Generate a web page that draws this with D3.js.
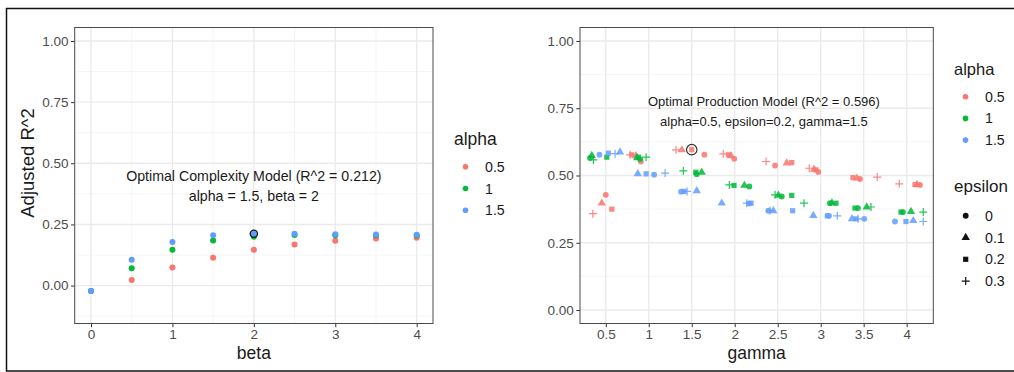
<!DOCTYPE html>
<html><head><meta charset="utf-8">
<script src="https://cdn.jsdelivr.net/npm/d3@7/dist/d3.min.js"></script>
<style>body{margin:0;background:#fff} text{font-family:"Liberation Sans",Arial,sans-serif}</style>
</head><body><svg id="c" width="1014" height="372"></svg>
<script>
// ---------- data ----------
const alphaLevels = ["0.5", "1", "1.5"];
const alphaColors = ["#F8766D", "#00BA38", "#619CFF"];
const epsilonLevels = ["0", "0.1", "0.2", "0.3"];

// Left panel: complexity model
const betaValues = [0, 0.5, 1, 1.5, 2, 2.5, 3, 3.5, 4];
const complexR2_a05 = [-0.022, 0.023, 0.074, 0.114, 0.146, 0.168, 0.183, 0.192, 0.196];
const complexR2_a1  = [-0.022, 0.071, 0.146, 0.184, 0.200, 0.207, 0.206, 0.206, 0.205];
const complexR2_a15 = [-0.022, 0.106, 0.178, 0.206, 0.212, 0.212, 0.210, 0.209, 0.208];
const betaTicks = [0, 1, 2, 3, 4];
const leftYTicks = [0, 0.25, 0.5, 0.75, 1];

// Right panel: production model (jittered gamma positions), order per gamma: eps 0, 0.1, 0.2, 0.3
const gammaTicks = [0.5, 1, 1.5, 2, 2.5, 3, 3.5, 4];
const prodGamma_a05 = [0.50,0.453,0.570,0.349, 0.907,0.852,0.802,0.783, 1.647,1.384,1.50,1.317, 1.995,1.957,1.926,1.867,
  2.469,2.605,2.663,2.365, 2.972,2.922,2.945,2.867, 3.457,3.422,3.375,3.658, 4.155,4.120,4.097,3.914];
const prodR2_a05 = [0.428,0.397,0.375,0.358, 0.552,0.573,0.577,0.577, 0.577,0.595,0.596,0.595, 0.562,0.573,0.577,0.580,
  0.537,0.546,0.548,0.552, 0.513,0.523,0.521,0.527, 0.487,0.490,0.492,0.494, 0.465,0.466,0.466,0.469];
const prodGamma_a1 = [0.317,0.337,0.512,0.356, 0.899,0.864,0.879,0.969, 1.558,1.616,1.547,1.402, 2.170,2.112,1.992,1.937,
  2.547,2.508,2.663,2.469, 3.108,3.131,3.178,2.806, 3.434,3.535,3.399,3.585, 3.957,4.050,3.934,4.193];
const prodR2_a1 = [0.565,0.574,0.568,0.558, 0.561,0.566,0.568,0.568, 0.505,0.512,0.512,0.517, 0.459,0.463,0.463,0.465,
  0.422,0.426,0.426,0.428, 0.397,0.398,0.397,0.397, 0.379,0.383,0.379,0.383, 0.364,0.366,0.364,0.364];
const prodGamma_a15 = [0.426,0.666,0.530,0.608, 1.062,0.872,0.969,1.19, 1.376,1.558,1.410,1.445, 2.166,1.849,2.19,2.140,
  2.391,2.449,2.674,2.41, 3.097,2.914,3.077,3.193, 3.507,3.364,3.411,3.434, 3.864,4.077,3.992,4.193];
const prodR2_a15 = [0.577,0.587,0.583,0.581, 0.503,0.506,0.506,0.509, 0.440,0.443,0.441,0.441, 0.396,0.397,0.397,0.397,
  0.369,0.369,0.369,0.369, 0.350,0.351,0.350,0.350, 0.339,0.339,0.339,0.339, 0.329,0.332,0.329,0.329];
const rightYTicks = [0, 0.25, 0.5, 0.75, 1];

const bestComplex = {beta: 2, r2: 0.212};
const bestProd = {gamma: 1.5, r2: 0.596};

// ---------- drawing ----------
const svg = d3.select("#c");
const FONT_TICK = 13.5, TICK_COL = "#4D4D4D", GRID = "#EBEBEB";
const FONT_ANN = 14.2, FONT_ANN_R = 13, FONT_TITLE = 17.5, FONT_LEG = 14.2;

svg.append("rect").attr("x", 6.5).attr("y", 8.5).attr("width", 1010).attr("height", 362.5)
  .attr("fill", "none").attr("stroke", "#111").attr("stroke-width", 1.5);

function panel(cfg) {
  const x = d3.scaleLinear().domain(cfg.xd).range([cfg.x0, cfg.x1]);
  const y = d3.scaleLinear().domain(cfg.yd).range([cfg.y1, cfg.y0]);
  const g = svg.append("g");
  cfg.xMinor.forEach(v => g.append("line").attr("x1", x(v)).attr("x2", x(v)).attr("y1", cfg.y0).attr("y2", cfg.y1)
    .attr("stroke", "#F2F2F2").attr("stroke-width", 0.8));
  cfg.yMinor.forEach(v => g.append("line").attr("y1", y(v)).attr("y2", y(v)).attr("x1", cfg.x0).attr("x2", cfg.x1)
    .attr("stroke", "#F2F2F2").attr("stroke-width", 0.8));
  cfg.xTicks.forEach(v => g.append("line").attr("x1", x(v)).attr("x2", x(v)).attr("y1", cfg.y0).attr("y2", cfg.y1)
    .attr("stroke", GRID).attr("stroke-width", 1.4));
  cfg.yTicks.forEach(v => g.append("line").attr("y1", y(v)).attr("y2", y(v)).attr("x1", cfg.x0).attr("x2", cfg.x1)
    .attr("stroke", GRID).attr("stroke-width", 1.4));
  return {x, y, g};
}

function axes(p, cfg) {
  const xa = d3.axisBottom(p.x).tickValues(cfg.xTicks).tickFormat(cfg.xFmt).tickSize(3.7).tickPadding(2.5);
  const ya = d3.axisLeft(p.y).tickValues(cfg.yTicks).tickFormat(d3.format(".2f")).tickSize(3.7).tickPadding(2.5);
  const gx = svg.append("g").attr("transform", `translate(0,${cfg.y1})`).call(xa);
  const gy = svg.append("g").attr("transform", `translate(${cfg.x0},0)`).call(ya);
  [gx, gy].forEach(a => {
    a.select(".domain").remove();
    a.selectAll("line").attr("stroke", "#333");
    a.selectAll("text").attr("fill", TICK_COL).style("font-size", FONT_TICK + "px")
      .style("font-family", '"Liberation Sans",Arial,sans-serif');
  });
  svg.append("rect").attr("x", cfg.x0).attr("y", cfg.y0).attr("width", cfg.x1 - cfg.x0).attr("height", cfg.y1 - cfg.y0)
    .attr("fill", "none").attr("stroke", "#4a4a4a").attr("stroke-width", 1);
  svg.append("text").attr("x", (cfg.x0 + cfg.x1) / 2).attr("y", 358.5).attr("text-anchor", "middle")
    .style("font-size", FONT_TITLE + "px").attr("fill", "#1a1a1a").text(cfg.xTitle);
}

// ---- Left panel ----
const L = {x0: 74.7, x1: 433, y0: 27.5, y1: 323.5, xd: [-0.2, 4.2], yd: [-0.155, 1.055],
  xTicks: betaTicks, yTicks: leftYTicks, xMinor: [0.5, 1.5, 2.5, 3.5], yMinor: [-0.125, 0.125, 0.375, 0.625, 0.875],
  xFmt: d3.format("d"), xTitle: "beta"};
const pl = panel(L);
const leftSeries = [complexR2_a05, complexR2_a1, complexR2_a15];
leftSeries.forEach((arr, i) => {
  pl.g.selectAll(null).data(arr).join("circle")
    .attr("cx", (d, j) => pl.x(betaValues[j])).attr("cy", d => pl.y(d)).attr("r", 3)
    .attr("fill", alphaColors[i]);
});
pl.g.append("circle").attr("cx", pl.x(bestComplex.beta)).attr("cy", pl.y(bestComplex.r2)).attr("r", 3.6)
  .attr("fill", "none").attr("stroke", "#111").attr("stroke-width", 1.3);
pl.g.append("text").attr("x", pl.x(2)).attr("y", 181).attr("text-anchor", "middle").style("font-size", FONT_ANN + "px")
  .attr("fill", "#1a1a1a").text("Optimal Complexity Model (R^2 = 0.212)");
pl.g.append("text").attr("x", pl.x(2)).attr("y", 201).attr("text-anchor", "middle").style("font-size", FONT_ANN + "px")
  .attr("fill", "#1a1a1a").text("alpha = 1.5, beta = 2");
axes(pl, L);
svg.append("text").attr("transform", "translate(34,163) rotate(-90)").attr("text-anchor", "middle")
  .style("font-size", "18.5px").attr("fill", "#1a1a1a").text("Adjusted R^2");

// ---- Right panel ----
const R = {x0: 580, x1: 933.3, y0: 27.5, y1: 323.5, xd: [0.2, 4.31], yd: [-0.05, 1.05],
  xTicks: gammaTicks, yTicks: rightYTicks, xMinor: [], yMinor: [0.125, 0.375, 0.625, 0.875],
  xFmt: d => String(d), xTitle: "gamma"};
const pr = panel(R);
const shapeFns = [
  (s, c) => s.append("path").attr("d", d3.symbol(d3.symbolCircle, 27)()).attr("fill", c),
  (s, c) => s.append("path").attr("d", d3.symbol(d3.symbolTriangle, 30)()).attr("fill", c),
  (s, c) => s.append("path").attr("d", d3.symbol(d3.symbolSquare, 27)()).attr("fill", c),
  (s, c) => s.append("path").attr("d", "M-4,0H4M0,-4V4").attr("stroke", c).attr("stroke-width", 1.2).attr("fill", "none")
];
const prodSeries = [[prodGamma_a05, prodR2_a05], [prodGamma_a1, prodR2_a1], [prodGamma_a15, prodR2_a15]];
prodSeries.forEach(([gx, ry], i) => {
  gx.forEach((gv, j) => {
    const s = pr.g.append("g").attr("transform", `translate(${pr.x(gv)},${pr.y(ry[j])})`).attr("opacity", 0.85);
    shapeFns[j % 4](s, alphaColors[i]);
  });
});
pr.g.append("circle").attr("cx", pr.x(bestProd.gamma)).attr("cy", pr.y(bestProd.r2)).attr("r", 5.2)
  .attr("fill", "none").attr("stroke", "#333").attr("stroke-width", 1.2);
pr.g.append("text").attr("x", pr.x(2.34)).attr("y", 105.5).attr("text-anchor", "middle").style("font-size", FONT_ANN_R + "px")
  .attr("fill", "#1a1a1a").text("Optimal Production Model (R^2 = 0.596)");
pr.g.append("text").attr("x", pr.x(2.34)).attr("y", 125.5).attr("text-anchor", "middle").style("font-size", FONT_ANN_R + "px")
  .attr("fill", "#1a1a1a").text("alpha=0.5, epsilon=0.2, gamma=1.5");
axes(pr, R);

// ---- Legends ----
function colorLegend(x, yTitle, yKeys, fs) {
  svg.append("text").attr("x", x).attr("y", yTitle).style("font-size", fs + "px").attr("fill", "#1a1a1a").text("alpha");
  alphaLevels.forEach((lv, i) => {
    svg.append("circle").attr("cx", x + 11.5).attr("cy", yKeys[i]).attr("r", 2.8).attr("fill", alphaColors[i]);
    svg.append("text").attr("x", x + 31).attr("y", yKeys[i] + 5).style("font-size", FONT_LEG + "px").attr("fill", "#1a1a1a").text(lv);
  });
}
colorLegend(454, 145, [166.7, 188.5, 210.3], FONT_TITLE);
colorLegend(954, 75, [96.7, 118.4, 140.1], 16.5);
svg.append("text").attr("x", 954).attr("y", 191.7).style("font-size", "17px").attr("fill", "#1a1a1a").text("epsilon");
epsilonLevels.forEach((lv, i) => {
  const yy = [215.7, 237.5, 259.3, 281.1][i];
  const s = svg.append("g").attr("transform", `translate(965.7,${yy})`);
  shapeFns[i](s, "#111");
  svg.append("text").attr("x", 985).attr("y", yy + 5).style("font-size", FONT_LEG + "px").attr("fill", "#1a1a1a").text(lv);
});
</script></body></html>
